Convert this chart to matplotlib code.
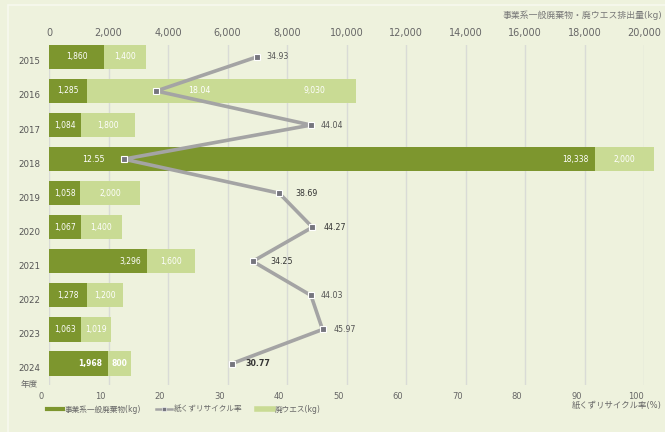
import matplotlib.pyplot as plt
from matplotlib.lines import Line2D
from matplotlib.patches import Rectangle
from matplotlib.transforms import ScaledTranslation

plt.rcParams['font.family'] = ['DejaVu Sans', 'Noto Sans CJK JP']

# 年度ごとの排出量とリサイクル率
years = ['2015', '2016', '2017', '2018', '2019', '2020', '2021', '2022', '2023', '2024']
general_waste = [1860, 1285, 1084, 18338, 1058, 1067, 3296, 1278, 1063, 1968]
waste_cloth = [1400, 9030, 1800, 2000, 2000, 1400, 1600, 1200, 1019, 800]
recycle_rate = [34.93, 18.04, 44.04, 12.55, 38.69, 44.27, 34.25, 44.03, 45.97, 30.77]

kg_ticks = list(range(0, 20001, 2000))
rate_ticks = list(range(0, 101, 10))

# 率ラベルの置き方 (マーカーからの横ずれpx, 色, 太さ)
rate_dx = [10, 32, 10, -19, 16, 11, 18, 10, 11, 13]
rate_color = ['#555555', 'white', '#555555', 'white', '#333333',
              '#333333', '#333333', '#555555', '#555555', '#333333']
rate_weight = ['normal', 'normal', 'normal', 'normal', 'normal',
               'normal', 'normal', 'normal', 'normal', 'bold']

BG = '#eef2dd'
DARK = '#7d962e'
LIGHT = '#c9db94'
GRID = '#d9dbd6'
LINE = '#a4a4a4'
MARK = '#76767e'

fig = plt.figure(figsize=(6.65, 4.32), dpi=100, facecolor=BG)
fig.patches.append(Rectangle((8 / 665, -0.1), 1.1, (432 - 5) / 432 + 0.1,
                             transform=fig.transFigure, facecolor='none',
                             edgecolor='#f7f9ef', lw=1.2))

ax = fig.add_axes([49 / 665, 47 / 432, 595 / 665, 340 / 432])
ax.set_facecolor('none')
ax2 = ax.twiny()
ax2.set_facecolor('none')
pos = list(range(len(years)))

ax.barh(pos, general_waste, height=0.71, color=DARK, clip_on=False, zorder=2)
ax.barh(pos, waste_cloth, left=general_waste, height=0.71, color=LIGHT,
        clip_on=False, zorder=2)

ax.set_xlim(0, 20000)
ax.set_ylim(9.63, -0.35)
ax.set_xticks(kg_ticks)
ax.set_xticklabels([f'{v:,}' for v in kg_ticks])
ax.xaxis.tick_top()
ax.set_yticks(pos)
ax.set_yticklabels(years)
ax.tick_params(axis='x', length=0, pad=5, labelsize=7, labelcolor='#666666')
ax.tick_params(axis='y', length=0, pad=6.5, labelsize=6.2, labelcolor='#555555')
ax.grid(axis='x', color=GRID, lw=1, zorder=0)
ax.set_axisbelow(True)
for s in ax.spines.values():
    s.set_visible(False)
for lab in ax.get_yticklabels():
    lab.set_transform(lab.get_transform()
                      + ScaledTranslation(0, -0.04, fig.dpi_scale_trans))

# 棒の中の数値
for i, (g, c) in enumerate(zip(general_waste, waste_cloth)):
    bold = 'bold' if i == len(years) - 1 else 'normal'
    if g >= 1900:
        ax.annotate(f'{g:,}', (g, i), xytext=(-4, 0), textcoords='offset points',
                    ha='right', va='center', color='white', fontsize=5.5,
                    weight=bold, zorder=3)
    else:
        ax.annotate(f'{g:,}', (g / 2, i), ha='center', va='center',
                    color='white', fontsize=5.5, weight=bold, zorder=3)
    if c > 5000:
        ax.annotate(f'{c:,}', (g + c, i), xytext=(-22, 0), textcoords='offset points',
                    ha='right', va='center', color='white', fontsize=5.5,
                    weight=bold, zorder=3, annotation_clip=False)
    else:
        ax.annotate(f'{c:,}', (g + c / 2, i), ha='center', va='center',
                    color='white', fontsize=5.5, weight=bold, zorder=3,
                    annotation_clip=False)

# 紙くずリサイクル率の折れ線
ax2.plot(recycle_rate, pos, color=LINE, lw=2.6, marker='s', markersize=4.5,
         markerfacecolor=MARK, markeredgecolor='white', markeredgewidth=0.8,
         zorder=4, clip_on=False)
ax2.set_xlim(0, 100)
ax2.set_ylim(9.63, -0.35)
ax2.set_xticks(rate_ticks)
ax2.xaxis.tick_bottom()
ax2.tick_params(axis='x', length=0, pad=5, labelsize=6, labelcolor='#666666')
for s in ax2.spines.values():
    s.set_visible(False)
for lab in ax2.get_xticklabels():
    lab.set_transform(lab.get_transform()
                      + ScaledTranslation(-0.08, 0, fig.dpi_scale_trans))

for i, r in enumerate(recycle_rate):
    dx = rate_dx[i] * 0.72
    ax2.annotate(f'{r:.2f}', (r, i), xytext=(dx, 0), textcoords='offset points',
                 ha='left' if dx > 0 else 'right', va='center',
                 color=rate_color[i], fontsize=5.7, weight=rate_weight[i], zorder=5)

# 軸タイトル
fig.text(662 / 665, 1 - 15 / 432, '事業系一般廃棄物・廃ウエス排出量(kg)',
         ha='right', va='center', fontsize=6.4, color='#777777')
fig.text(662 / 665, 1 - 405 / 432, '紙くずリサイクル率(%)',
         ha='right', va='center', fontsize=6, color='#666666')
fig.text(29 / 665, 1 - 384 / 432, '年度', ha='center', va='center',
         fontsize=6.2, color='#666666')

handles = [
    Line2D([], [], color=DARK, lw=3),
    Line2D([], [], color=LINE, lw=1.8, marker='s', markersize=2.5,
           markerfacecolor=MARK, markeredgecolor='white', markeredgewidth=0.4),
    Line2D([], [], color=LIGHT, lw=4),
]
labels = ['事業系一般廃棄物(kg)', '紙くずリサイクル率', '廃ウエス(kg)']
leg = fig.legend(handles, labels, loc='center left',
                 bbox_to_anchor=(47 / 665, 1 - 409 / 432), ncol=3, frameon=False,
                 fontsize=5.5, handlelength=2.1, handletextpad=0.25,
                 columnspacing=1.9, borderpad=0, borderaxespad=0)
for t in leg.get_texts():
    t.set_color('#666666')

fig.savefig('out.png', dpi=100, facecolor=BG)
